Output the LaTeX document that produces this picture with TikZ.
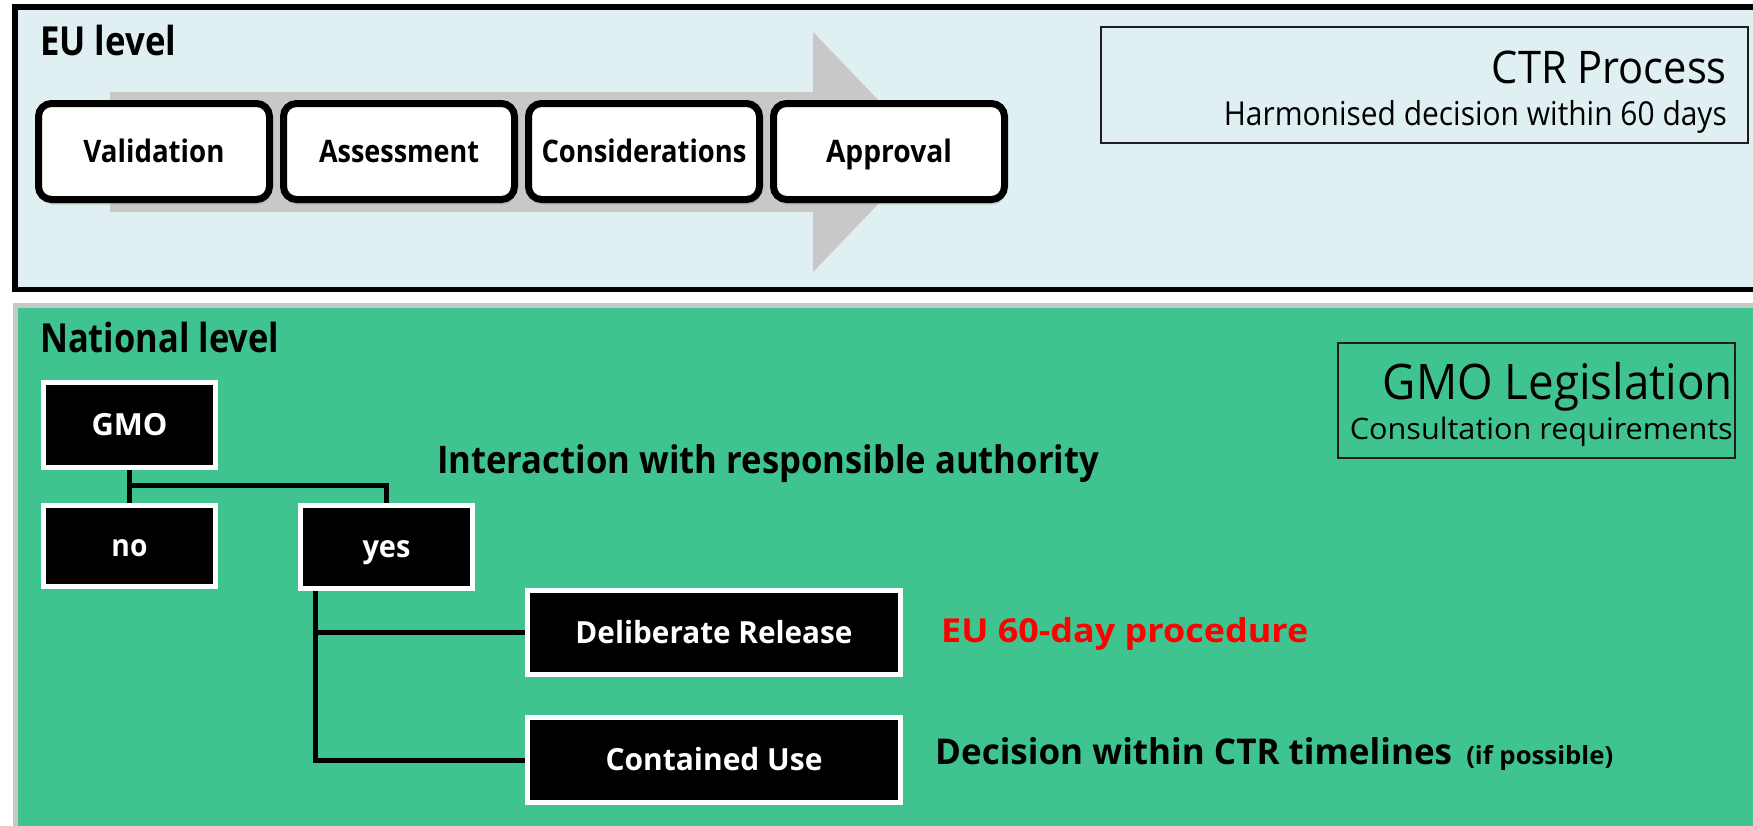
\documentclass[tikz,border=0pt]{standalone}
\usepackage{fontspec}
\setmainfont{Open Sans}
\usetikzlibrary{shadows,calc}
\pgfdeclarelayer{panel}\pgfdeclarelayer{conn}
\pgfsetlayers{panel,conn,main}
\definecolor{eubg}{RGB}{223,239,242}
\definecolor{natbg}{RGB}{64,196,143}
\definecolor{arrowgray}{RGB}{200,200,200}
\definecolor{panelgray}{RGB}{200,200,200}
\definecolor{infoline}{RGB}{30,30,30}
\newcommand\fitw[2]{\resizebox{#1pt}{\height}{#2}}
\newcommand\fs[1]{\fontsize{#1}{#1}\selectfont}
\tikzset{
  stepbox/.style={draw=black, line width=7pt, fill=white, rounded corners=13pt,
    minimum width=231pt, minimum height=96pt, inner sep=0pt,
    text height=22pt, text depth=0pt,
    drop shadow={opacity=0.3, shadow xshift=1pt, shadow yshift=-5pt},
    font=\bfseries\fs{31}},
  gmobox/.style={fill=black, draw=white, line width=5pt, inner sep=0pt,
    text=white, text height=21.5pt, text depth=0pt, font=\bfseries\fs{30.5}},
  infobox/.style={draw=infoline, line width=1.5pt, inner sep=0pt},
  lbl/.style={inner sep=0pt},
  conn/.style={draw=black, line width=5pt, line join=miter},
}
\begin{document}
\begin{tikzpicture}[x=1pt, y=-1pt]
\useasboundingbox (0,0) rectangle (1753,825);
\begin{pgfonlayer}{panel}
  % EU level panel
  \draw[line width=5.5pt, fill=eubg] (15,7) rectangle (1800,289.5);
  % National level panel
  \draw[panelgray, line width=5pt, fill=natbg] (15.5,305) rectangle (1800,900);
  % gray process arrow
  \fill[arrowgray] (110,92) -- (813,92) -- (813,32) -- (928,152) -- (813,272)
    -- (813,212) -- (110,212) -- cycle;
\end{pgfonlayer}

% EU level
\node[lbl, anchor=base west, font=\bfseries\fs{40}] (eulevel) at (40,55) {\fitw{136}{EU level}};
\node[stepbox] (val) at (154,151.5) {\fitw{141}{Validation}};
\node[stepbox] (ass) at (399,151.5) {\fitw{160}{Assessment}};
\node[stepbox] (con) at (644,151.5) {\fitw{205}{Considerations}};
\node[stepbox] (app) at (889,151.5) {\fitw{126}{Approval}};

\node[infobox, minimum width=647pt, minimum height=116pt] (ctrbox) at (1424.5,85) {};
\node[lbl, anchor=base east, font=\fs{45}] (ctrtitle) at (1727,83) {\fitw{235}{CTR Process}};
\node[lbl, anchor=base east, font=\fs{33}] (ctrsub) at (1727,125) {\fitw{503}{Harmonised decision within 60 days}};

% National level
\node[lbl, anchor=base west, font=\bfseries\fs{40}] (natlevel) at (40,352) {\fitw{239}{National level}};
\node[gmobox, minimum width=172pt, minimum height=85pt] (gmo) at (129.5,425) {\fitw{76}{GMO}};
\node[gmobox, minimum width=172pt, minimum height=81pt] (no) at (129.5,546) {\fitw{36}{no}};
\node[gmobox, minimum width=172pt, minimum height=83pt] (yes) at (386.5,547) {\fitw{48}{yes}};
\node[gmobox, minimum width=373pt, minimum height=84pt] (dr) at (714,632.5) {\fitw{277}{Deliberate Release}};
\node[gmobox, minimum width=373pt, minimum height=85pt] (cu) at (714,760) {\fitw{217}{Contained Use}};

\node[lbl, anchor=base west, font=\bfseries\fs{38}] (interaction) at (437,473) {\fitw{662}{Interaction with responsible authority}};
\node[lbl, anchor=base west, font=\bfseries\fs{33}, text=red] (eu60) at (941,642) {\fitw{367}{EU 60-day procedure}};
\node[lbl, anchor=base west, font=\bfseries\fs{35.5}] (decision) at (935,764)
  {\fitw{517}{Decision within CTR timelines}\hspace{14pt}{\fs{25}\fitw{147}{(if possible)}}};

\node[infobox, minimum width=397pt, minimum height=115pt] (gmoleg) at (1536.5,400.5) {};
\node[lbl, anchor=base east, font=\fs{49}] (gmotitle) at (1733,399) {\fitw{350}{GMO Legislation}};
\node[lbl, anchor=base east, font=\fs{29.5}] (gmosub) at (1733,439) {\fitw{383}{Consultation requirements}};

% connectors
\begin{pgfonlayer}{conn}
  \coordinate (split) at ($(yes.north)+(0,-18)$);
  \coordinate (trunk) at ($(yes.south west)+(17.5,0)$);
  \draw[conn] (gmo.south) -- (no.north);
  \draw[conn] (gmo.south) |- (split) -- (yes.north);
  \draw[conn] (trunk) |- (dr.west);
  \draw[conn] (trunk) |- (cu.west);
\end{pgfonlayer}
\end{tikzpicture}
\end{document}
